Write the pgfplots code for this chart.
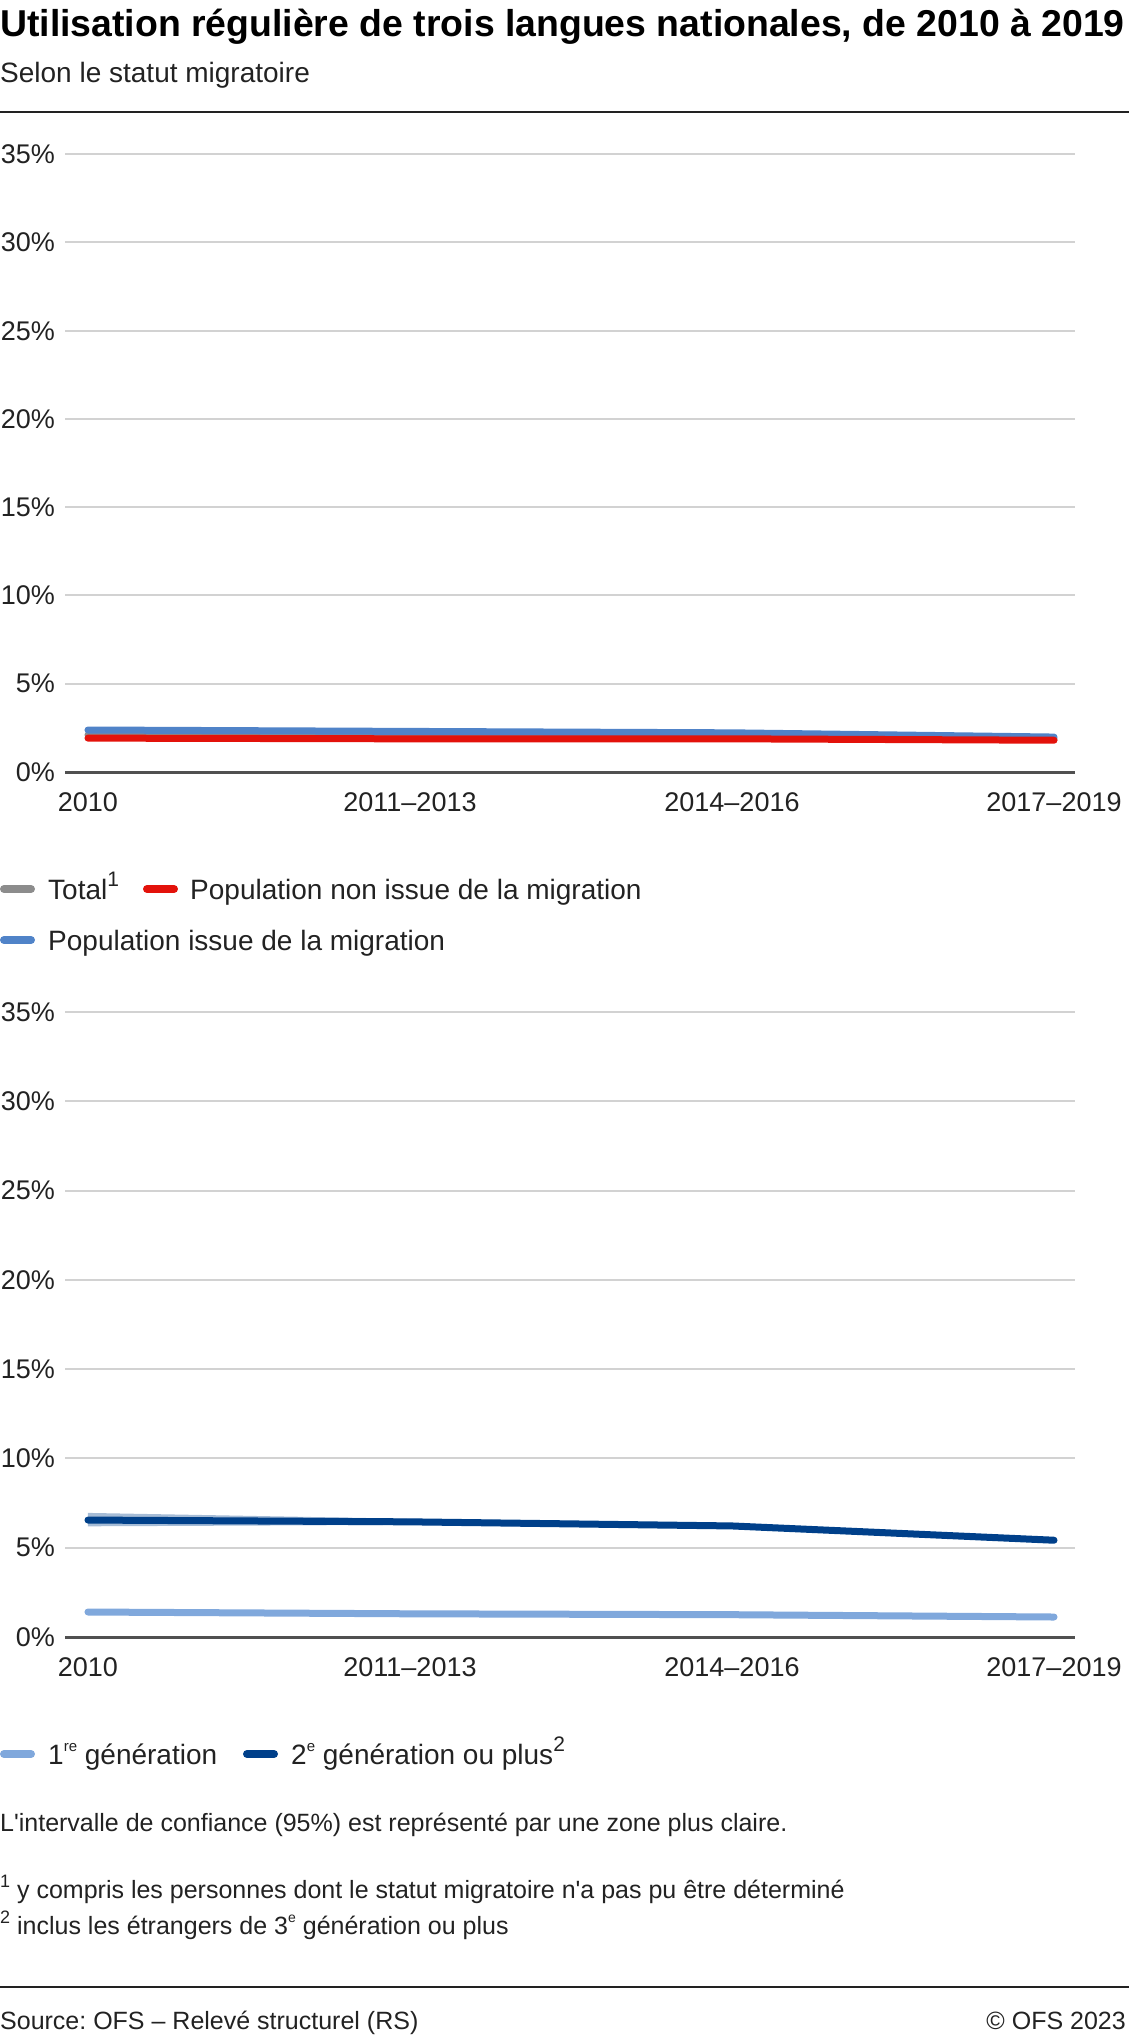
\documentclass[border=0pt]{standalone}
\usepackage{fontspec}
\setmainfont{Liberation Sans}
\usepackage{pgfplots}
\pgfplotsset{compat=1.18}

\definecolor{ofs_grey}{RGB}{140,140,140}
\definecolor{ofs_red}{RGB}{227,18,11}
\definecolor{ofs_blue}{RGB}{80,131,200}
\definecolor{ofs_light}{RGB}{128,168,220}
\definecolor{ofs_dark}{RGB}{0,64,138}
\definecolor{ofs_grid}{RGB}{210,210,210}
\definecolor{ofs_axis}{RGB}{80,80,80}
\definecolor{ofs_text}{RGB}{34,34,34}

\newcommand{\fs}[1]{\fontsize{#1}{#1}\selectfont}
\newcommand{\fnmark}[1]{\raisebox{0.42em}{\fontsize{18}{18}\selectfont #1}}

\pgfplotsset{ofs/.style={
  scale only axis, width=1010pt,
  xmin=-0.0714, xmax=3.0652, ymin=0, ymax=35,
  axis line style={draw=none}, major tick style={draw=none},
  ymajorgrids, grid style={ofs_grid, line width=2pt},
  xtick={0,1,2,3}, xticklabels={2010,2011–2013,2014–2016,2017–2019},
  ytick={0,5,10,15,20,25,30,35},
  yticklabels={0\%,5\%,10\%,15\%,20\%,25\%,30\%,35\%},
  tick label style={font=\fs{27}, text=ofs_text, inner sep=0pt},
  yticklabel style={anchor=east, xshift=-10pt},
  xticklabel style={anchor=north, yshift=-20pt},
  clip=false,
  every axis plot/.append style={line width=7pt, line cap=round, line join=round},
}}

\begin{document}
\frenchspacing
\begin{tikzpicture}
\useasboundingbox (0,0) rectangle (1129pt,-2038pt);

% titre
\node[anchor=base west, inner sep=0pt, font=\fs{37.4}\bfseries] at (0pt,-36pt)
  {Utilisation régulière de trois langues nationales, de 2010 à 2019};
\node[anchor=base west, inner sep=0pt, font=\fs{28}, text=ofs_text] at (0pt,-82pt)
  {Selon le statut migratoire};
\draw[ofs_text, line width=2.5pt] (0pt,-112pt) -- (1129pt,-112pt);

% graphique du haut
\begin{axis}[ofs, height=617.8pt, at={(65pt,-772pt)}, anchor=south west]
  \draw[ofs_axis, line width=3pt] (rel axis cs:0,0) -- (rel axis cs:1,0);
  \addplot[draw=none, fill=ofs_blue!30] coordinates
    {(0,2.52)(1,2.42)(2,2.33)(3,2.08)(3,1.88)(2,2.11)(1,2.18)(0,2.24)} -- cycle;
  \addplot[ofs_grey] coordinates {(0,2.1)(1,2.03)(2,2.0)(3,1.87)};
  \addplot[ofs_blue] coordinates {(0,2.38)(1,2.3)(2,2.22)(3,1.98)};
  \addplot[ofs_red] coordinates {(0,1.92)(1,1.88)(2,1.88)(3,1.8)};
\end{axis}

% légende du haut
\begin{scope}[line width=8pt, line cap=round]
  \draw[ofs_grey] (4pt,-889pt) -- (31pt,-889pt);
  \draw[ofs_red] (147pt,-889pt) -- (174pt,-889pt);
  \draw[ofs_blue] (4pt,-940pt) -- (31pt,-940pt);
\end{scope}
\node[anchor=base west, inner sep=0pt, font=\fs{28}, text=ofs_text] at (48pt,-899pt)
  {Total\raisebox{0.45em}{\fs{21}1}};
\node[anchor=base west, inner sep=0pt, font=\fs{28}, text=ofs_text] at (190pt,-899pt)
  {Population non issue de la migration};
\node[anchor=base west, inner sep=0pt, font=\fs{28}, text=ofs_text] at (48pt,-950pt)
  {Population issue de la migration};

% graphique du bas
\begin{axis}[ofs, height=625pt, at={(65pt,-1637pt)}, anchor=south west]
  \draw[ofs_axis, line width=3pt] (rel axis cs:0,0) -- (rel axis cs:1,0);
  \addplot[draw=none, fill=ofs_light!40] coordinates
    {(0,1.55)(1,1.42)(2,1.36)(3,1.24)(3,1.0)(2,1.14)(1,1.18)(0,1.27)} -- cycle;
  \addplot[draw=none, fill=ofs_dark!35] coordinates
    {(0,6.95)(1,6.62)(2,6.36)(3,5.58)(3,5.3)(2,6.08)(1,6.28)(0,6.2)} -- cycle;
  \addplot[ofs_light] coordinates {(0,1.4)(1,1.3)(2,1.25)(3,1.12)};
  \addplot[ofs_dark] coordinates {(0,6.55)(1,6.45)(2,6.22)(3,5.42)};
\end{axis}

% légende du bas
\begin{scope}[line width=8pt, line cap=round]
  \draw[ofs_light] (4pt,-1754pt) -- (31pt,-1754pt);
  \draw[ofs_dark] (247pt,-1754pt) -- (274pt,-1754pt);
\end{scope}
\node[anchor=base west, inner sep=0pt, font=\fs{28}, text=ofs_text] at (48pt,-1764pt)
  {1\raisebox{0.45em}{\fs{15}re} génération};
\node[anchor=base west, inner sep=0pt, font=\fs{28}, text=ofs_text] at (291pt,-1764pt)
  {2\raisebox{0.45em}{\fs{15}e} génération ou plus\raisebox{0.45em}{\fs{21}2}};

% notes
\node[anchor=base west, inner sep=0pt, font=\fs{25}, text=ofs_text] at (0pt,-1831pt)
  {L\textquotesingle intervalle de confiance (95\%) est représenté par une zone plus claire.};
\node[anchor=base west, inner sep=0pt, font=\fs{25}, text=ofs_text] at (0pt,-1898pt)
  {\fnmark{1} y compris les personnes dont le statut migratoire n\textquotesingle a pas pu être déterminé};
\node[anchor=base west, inner sep=0pt, font=\fs{25}, text=ofs_text] at (0pt,-1934pt)
  {\fnmark{2} inclus les étrangers de 3\raisebox{0.45em}{\fs{14}e} génération ou plus};

\draw[ofs_text, line width=2.5pt] (0pt,-1987pt) -- (1129pt,-1987pt);
\node[anchor=base west, inner sep=0pt, font=\fs{25}, text=ofs_text] at (0pt,-2029pt)
  {Source: OFS – Relevé structurel (RS)};
\node[anchor=base east, inner sep=0pt, font=\fs{25}, text=ofs_text] at (1126pt,-2029pt)
  {© OFS 2023};
\end{tikzpicture}
\end{document}
